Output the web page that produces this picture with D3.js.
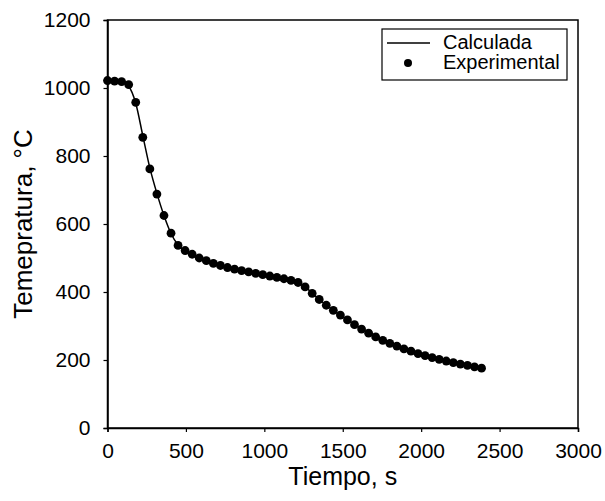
<!DOCTYPE html>
<html>
<head>
<meta charset="utf-8">
<script src="https://cdn.jsdelivr.net/npm/d3@7"></script>
<style>
  html, body { margin: 0; padding: 0; background: #fff; }
  svg { display: block; font-family: "Liberation Sans", Arial, sans-serif; }
</style>
</head>
<body>
<svg id="chart" width="605" height="501"></svg>
<script>
// Experimental measurements (s, °C)
const expTime = [0,45,90,135,180,225,270,315,360,405,450,495,540,585,630,675,720,765,810,855,900,945,990,1035,1080,1125,1170,1215,1260,1305,1350,1395,1440,1485,1530,1575,1620,1665,1710,1755,1800,1845,1890,1935,1980,2025,2070,2115,2160,2205,2250,2295,2340,2385];
const expTemp = [1022,1020,1019,1010,958,855,762,688,625,573,537,522,511,500,492,484,478,472,467,463,459,455,451,447,443,439,434,428,415,396,378,361,346,332,318,304,291,279,268,258,249,241,233,226,219,213,207,202,197,192,188,184,180,176];

// Calculated curve (s, °C)
const calcTime = [0,45,90,135,180,225,270,315,360,405,450,495,540,630,720,810,900,990,1080,1170,1215,1260,1305,1350,1440,1530,1620,1710,1800,1890,1980,2070,2160,2250,2340,2385];
const calcTemp = [1020,1019,1018,1005,955,860,765,690,625,572,538,520,510,492,478,467,459,451,443,434,428,415,397,378,346,318,291,268,249,233,219,207,197,188,180,176];

const xTicks = [0,500,1000,1500,2000,2500,3000];
const yTicks = [0,200,400,600,800,1000,1200];
const xTitle = "Tiempo, s";
const yTitle = "Temepratura, °C";
const legendLabels = ["Calculada", "Experimental"];

const svg = d3.select("#chart");
const m = {left: 107.5, right: 605 - 578, top: 20, bottom: 501 - 428};
const W = 605, H = 501;

const x = d3.scaleLinear().domain([0, 3000]).range([m.left, W - m.right]);
const y = d3.scaleLinear().domain([0, 1200]).range([H - m.bottom, m.top]);

// frame
svg.append("rect")
  .attr("x", x(0)).attr("y", y(1200))
  .attr("width", x(3000) - x(0)).attr("height", y(0) - y(1200))
  .attr("fill", "none").attr("stroke", "#000").attr("stroke-width", 1.5);

// axes
const xAxis = svg.append("g")
  .attr("transform", `translate(0,${y(0)})`)
  .call(d3.axisBottom(x).tickValues(xTicks).tickSize(4).tickPadding(11).tickFormat(d3.format("d")));
const yAxis = svg.append("g")
  .attr("transform", `translate(${x(0)},0)`)
  .call(d3.axisLeft(y).tickValues(yTicks).tickSize(4).tickPadding(13).tickFormat(d3.format("d")));

[xAxis, yAxis].forEach(g => {
  g.select(".domain").attr("stroke", "#000").attr("stroke-width", 1.5);
  g.selectAll(".tick line").attr("stroke", "#000").attr("stroke-width", 1.2);
  g.selectAll(".tick text").attr("fill", "#000").attr("font-size", 21)
    .attr("font-family", "Liberation Sans, Arial, sans-serif");
});

// axis titles
svg.append("text")
  .attr("x", (x(0) + x(3000)) / 2).attr("y", 485)
  .attr("text-anchor", "middle").attr("font-size", 25).attr("fill", "#000")
  .text(xTitle);
svg.append("text")
  .attr("transform", `translate(32,${(y(0) + y(1200)) / 2}) rotate(-90)`)
  .attr("text-anchor", "middle").attr("font-size", 26).attr("fill", "#000")
  .text(yTitle);

// calculated line
const calc = calcTime.map((t, i) => [t, calcTemp[i]]);
svg.append("path")
  .datum(calc)
  .attr("fill", "none").attr("stroke", "#000").attr("stroke-width", 1.5)
  .attr("d", d3.line().x(d => x(d[0])).y(d => y(d[1])).curve(d3.curveMonotoneX));

// experimental points
const exp = expTime.map((t, i) => [t, expTemp[i]]);
svg.append("g").selectAll("circle")
  .data(exp).join("circle")
  .attr("cx", d => x(d[0])).attr("cy", d => y(d[1]))
  .attr("r", 4.4).attr("fill", "#000");

// legend
const lg = svg.append("g");
lg.append("rect")
  .attr("x", 382).attr("y", 29).attr("width", 185).attr("height", 51)
  .attr("fill", "#fff").attr("stroke", "#000").attr("stroke-width", 1.2);
lg.append("line")
  .attr("x1", 387).attr("x2", 430).attr("y1", 43).attr("y2", 43)
  .attr("stroke", "#000").attr("stroke-width", 1.5);
lg.append("circle").attr("cx", 408).attr("cy", 63).attr("r", 4).attr("fill", "#000");
lg.append("text").attr("x", 443).attr("y", 49).attr("font-size", 20).attr("fill", "#000").text(legendLabels[0]);
lg.append("text").attr("x", 443).attr("y", 69).attr("font-size", 20).attr("fill", "#000").text(legendLabels[1]);
</script>
</body>
</html>
